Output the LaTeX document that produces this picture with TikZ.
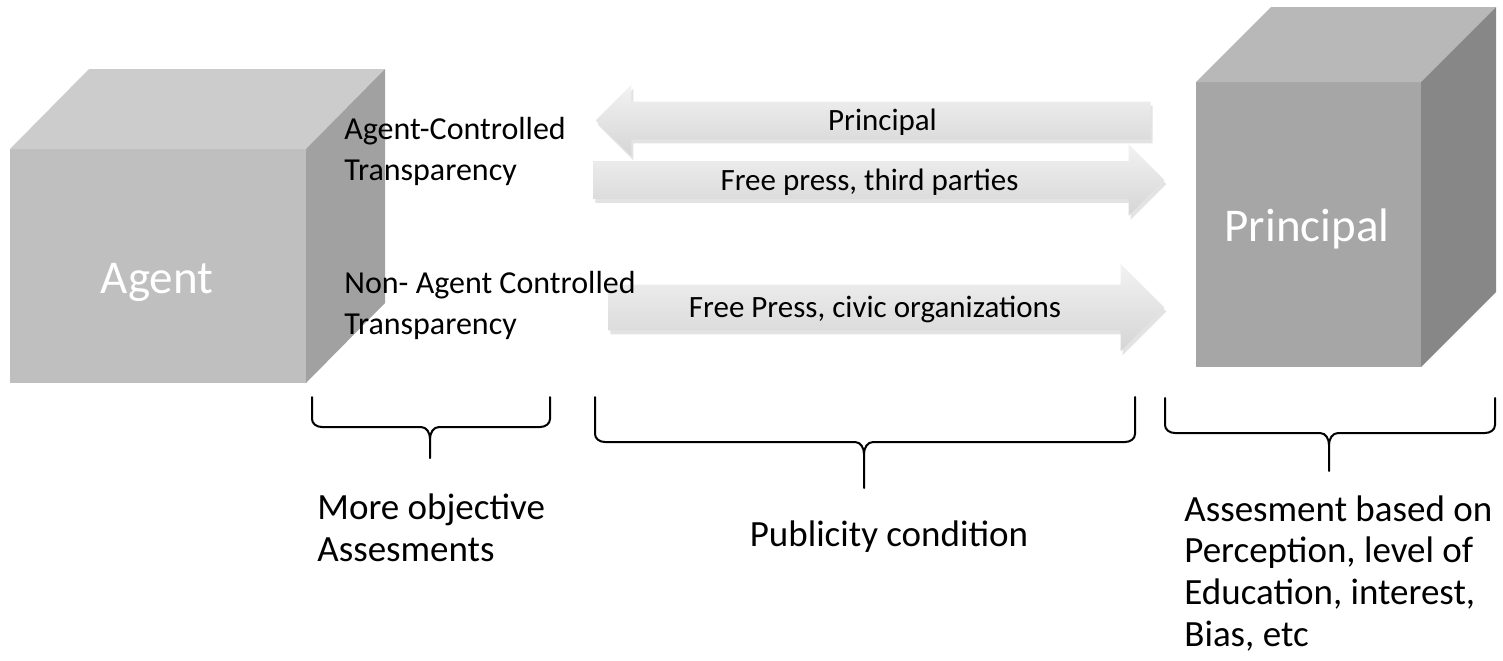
\documentclass[tikz,border=0pt]{standalone}
\usepackage{fontspec}
\setmainfont{Carlito}
\usetikzlibrary{shapes.arrows,shadows}

% curly bracket opening upwards: left x, right x, top y, line y, tip x, tip y
\newcommand{\bracedown}[6]{%
  \draw[brace line] (#1,#3) -- (#1,#4-8) to[out=-90,in=180] (#1+10,#4)
    -- (#5-9,#4) to[out=0,in=90] (#5,#4+12) -- (#5,#6);
  \draw[brace line] (#5,#4+12) to[out=90,in=180] (#5+9,#4)
    -- (#2-10,#4) to[out=0,in=-90] (#2,#4-8) -- (#2,#3);
}

\tikzset{
  flow/.style={single arrow, draw=none, inner xsep=0pt, inner ysep=0pt,
    single arrow head indent=0pt,
    shading=axis, top color=gray!10, bottom color=gray!33,
    drop shadow={opacity=0.22,shadow xshift=1pt,shadow yshift=-2pt},
    font=\fontsize{15.5}{18}\selectfont},
  thin flow/.style={flow, text height=14.25pt, text depth=4.25pt,
    single arrow head extend=8.5pt},
  thick flow/.style={flow, text height=16.25pt, text depth=6.25pt,
    single arrow head extend=10.5pt},
  side note/.style={align=left, inner sep=0pt, font=\fontsize{16}{20.5}\selectfont},
  note/.style={align=left, inner sep=0pt, font=\fontsize{18.5}{20.8}\selectfont},
  cube text/.style={text=white, inner sep=0pt, font=\fontsize{23.5}{28}\selectfont},
  brace line/.style={line width=1pt, line cap=round},
}

\begin{document}
\begin{tikzpicture}[x=0.5pt,y=-0.5pt]
  \useasboundingbox (0,0) rectangle (1503,660);

  % agent cube
  \fill[black!25] (10,149) rectangle (306,383);
  \fill[black!20] (10,149) -- (89,69) -- (385,69) -- (306,149) -- cycle;
  \fill[black!37] (306,149) -- (385,69) -- (385,303) -- (306,383) -- cycle;
  \node[cube text, anchor=base] (agent) at (157,293) {Agent};

  % principal cube
  \fill[black!35] (1196,82) rectangle (1421,367);
  \fill[black!28] (1196,82) -- (1271,7) -- (1496,7) -- (1421,82) -- cycle;
  \fill[black!47] (1421,82) -- (1496,7) -- (1496,292) -- (1421,367) -- cycle;
  \node[cube text, anchor=base] (principal) at (1307,241) {Principal};

  % arrows
  \node[thin flow, shape border rotate=180, minimum height=277.5pt,
    anchor=tip] (back) at (595,120.5) {Principal};
  \node[thin flow, minimum height=285.5pt, anchor=tip] (press) at (1165,180) {Free press, third parties};
  \node[thick flow, minimum height=278pt, anchor=tip] (civic) at (1165,307.5) {Free Press, civic organizations};

  % base = baseline of the last line
  \node[side note, anchor=base west] (agentctl) at (344,180) {Agent-Controlled\\Transparency};
  \node[side note, anchor=base west] (nonctl) at (344,334) {Non- Agent Controlled\\Transparency};

  % brackets
  \bracedown{312}{550}{397}{427}{430}{458}
  \bracedown{595}{1135}{397}{442}{864}{488}
  \bracedown{1165}{1495}{398}{433}{1329}{471}

  \node[note, anchor=base west] (objective) at (317,561) {More objective\\Assesments};
  \node[note, anchor=base] (publicity) at (889,546) {Publicity condition};
  \node[note, anchor=base west] (perception) at (1184,646) {Assesment based on\\Perception, level of\\Education, interest,\\Bias, etc};
\end{tikzpicture}
\end{document}
